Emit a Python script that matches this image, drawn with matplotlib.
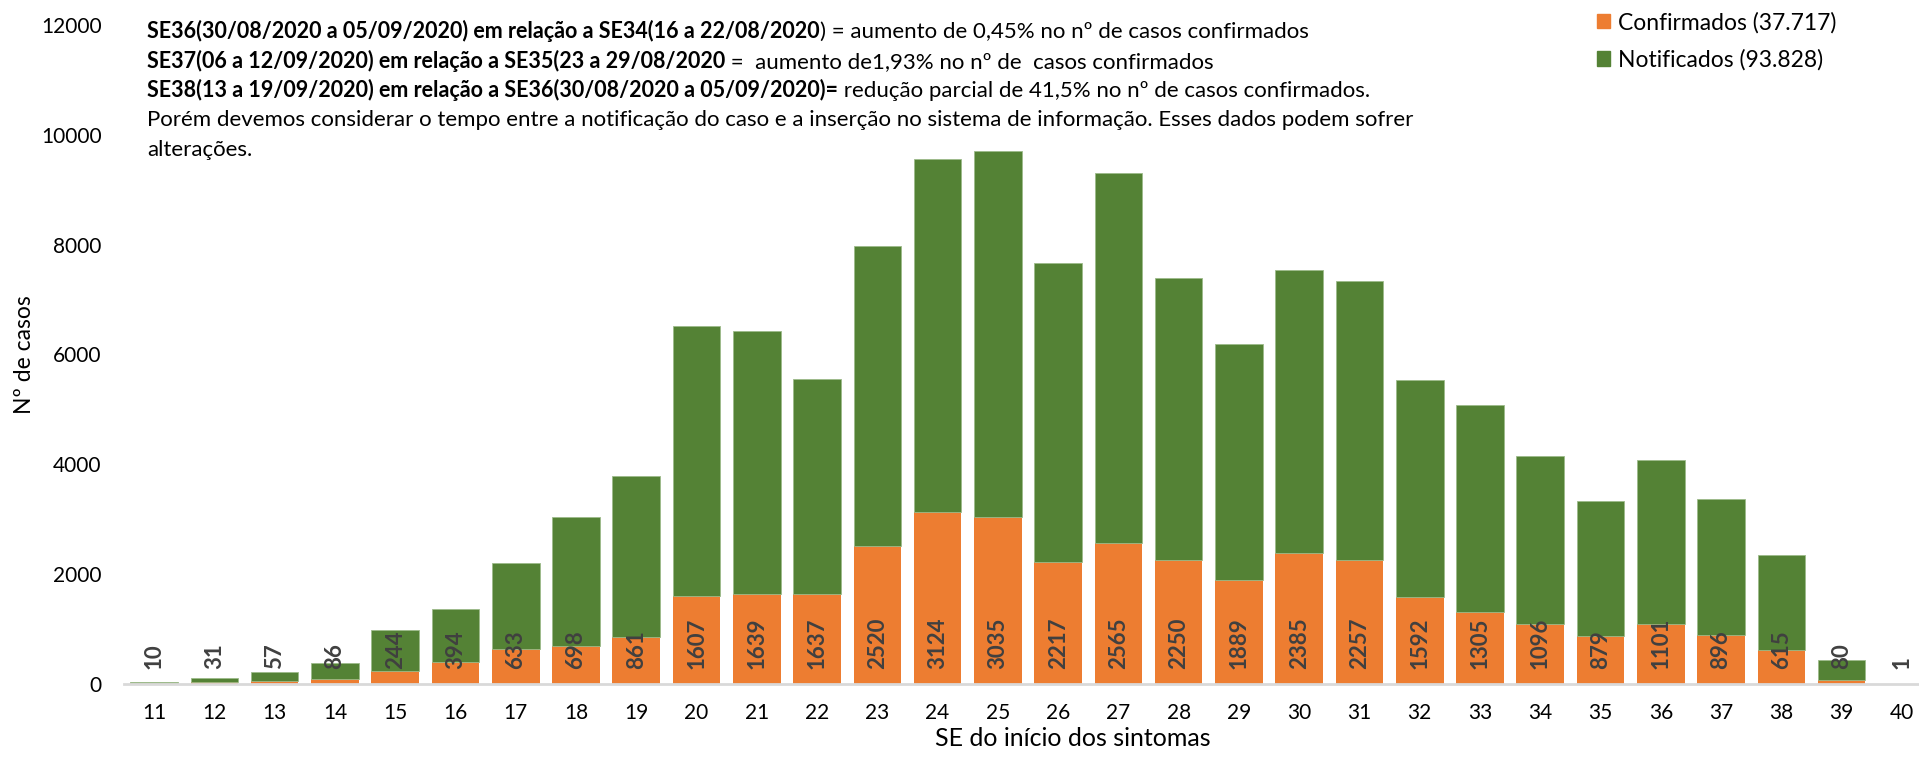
import matplotlib.pyplot as plt
from matplotlib.patches import Patch

plt.rcParams['font.family'] = ['Lato', 'DejaVu Sans']

# dados por semana epidemiologica (SE do inicio dos sintomas)
semanas = list(range(11, 41))
confirmados = [10, 31, 57, 86, 244, 394, 633, 698, 861, 1607,
               1639, 1637, 2520, 3124, 3035, 2217, 2565, 2250, 1889, 2385,
               2257, 1592, 1305, 1096, 879, 1101, 896, 615, 80, 1]
notificados = [25, 72, 167, 302, 732, 970, 1573, 2344, 2927, 4909,
               4798, 3920, 5452, 6443, 6671, 5458, 6735, 5134, 4311, 5162,
               5083, 3941, 3767, 3054, 2446, 2970, 2465, 1726, 362, 3]
yticks = [0, 2000, 4000, 6000, 8000, 10000, 12000]
legenda = ['Confirmados (37.717)', 'Notificados (93.828)']

# texto de cima: parte em negrito + parte normal
linhas = [
    ("SE36(30/08/2020 a 05/09/2020) em relação a SE34(16 a 22/08/2020",
     ") = aumento de 0,45% no nº de casos confirmados"),
    ("SE37(06 a 12/09/2020) em relação a SE35(23 a 29/08/2020",
     " =  aumento de1,93% no nº de  casos confirmados"),
    ("SE38(13 a 19/09/2020) em relação a SE36(30/08/2020 a 05/09/2020)=",
     " redução parcial de 41,5% no nº de casos confirmados."),
    ("", "Porém devemos considerar o tempo entre a notificação do caso e a "
         "inserção no sistema de informação. Esses dados podem sofrer"),
    ("", "alterações."),
]

laranja = '#ED7D31'
verde = '#548235'

W, H = 1919, 759
fig = plt.figure(figsize=(W / 100, H / 100), dpi=100)
ax = fig.add_axes([124 / W, 75 / H, 1808 / W, 659 / H])

ax.bar(semanas, confirmados, width=0.79, color=laranja, zorder=2)
ax.bar(semanas, notificados, width=0.79, bottom=confirmados, color=verde,
       edgecolor='#9dbb8a', linewidth=0.6, zorder=2)

# rotulos dos confirmados, na base da barra
for s, v in zip(semanas, confirmados):
    ax.annotate(str(v), xy=(s, 0), xytext=(0, 11), textcoords='offset points',
                rotation=90, ha='center', va='bottom', fontsize=16,
                fontweight='bold', color='#404040', zorder=3)

ax.set_xlim(10.5, 40.5)
ax.set_ylim(0, 12000)
ax.set_xticks(semanas)
ax.set_yticks(yticks)
ax.tick_params(axis='y', length=0, pad=16, labelsize=15)
ax.tick_params(axis='x', length=0, pad=14, labelsize=15)
for sp in ['left', 'top', 'right']:
    ax.spines[sp].set_visible(False)
ax.spines['bottom'].set_color('#d9d9d9')
ax.spines['bottom'].set_linewidth(2)

ax.set_xlabel('SE do início dos sintomas', fontsize=18, va='center')
ax.xaxis.set_label_coords((26.25 - 10.5) / 30, -54 / 659)
ax.set_ylabel('Nº de casos', fontsize=16.5, va='center')
ax.yaxis.set_label_coords(-99 / 1808, 0.5)

# bloco de texto
x0 = 147 / W
for i, (neg, norm) in enumerate(linhas):
    y = 1 - (31 + 29.7 * i) / H
    if neg:
        tb = fig.text(x0, y, neg, fontsize=15.5, fontweight='bold', va='center', ha='left')
        ax.annotate(norm, xy=(1, 0), xycoords=tb, va='bottom', ha='left', fontsize=16)
    else:
        fig.text(x0, y, norm, fontsize=16, va='center', ha='left')

fig.legend(handles=[Patch(color=laranja, label=legenda[0]),
                    Patch(color=verde, label=legenda[1])],
           loc='upper left', bbox_to_anchor=(1592 / W, 1 - 7 / H),
           frameon=False, fontsize=16.5, handlelength=0.58, handleheight=0.58,
           handletextpad=0.35, labelspacing=0.7, borderaxespad=0, borderpad=0.2)

fig.savefig('out.png', dpi=100)
